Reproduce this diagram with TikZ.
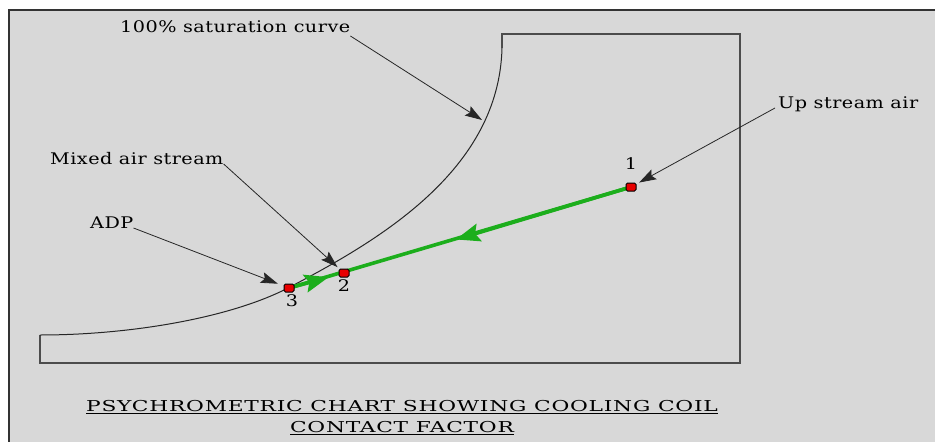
\documentclass[tikz,border=0pt]{standalone}
\usepackage{fontspec}
\setmainfont{DejaVu Serif}[FakeStretch=1.2, LetterSpace=3]
\newfontfamily\titlefont{DejaVu Serif}[FakeStretch=1.45, LetterSpace=5]
\usepackage{tikz}
\usetikzlibrary{arrows.meta, positioning, calc}
\definecolor{chartbg}{HTML}{D8D8D8}
\definecolor{flowgreen}{HTML}{1CAE1C}
\definecolor{ptred}{HTML}{E80000}

\begin{document}
\begin{tikzpicture}[x=1pt, y=-1pt,
  lbl/.style={font=\fontsize{16}{18}\selectfont, text=black, inner sep=0pt, anchor=base west},
  num/.style={font=\fontsize{16}{18}\selectfont, text=black, inner sep=0pt},
  statept/.style={draw=black, fill=ptred, rounded corners=1.5pt, minimum width=10pt,
                  minimum height=8pt, inner sep=0pt, line width=1pt},
  lead/.style={-{Stealth[length=17pt, width=11pt, inset=3pt]}, line width=0.8pt, black!85},
  flow/.style={draw=flowgreen, line width=3.6pt},
  flowtip/.style={flow, -{Stealth[length=24pt, width=18pt, inset=4pt]}},
  chart/.style={draw=black!70, line width=1.6pt}]
\useasboundingbox[fill=white] (0,0) rectangle (935,442);
% outer frame
\fill[chartbg] (9,10) rectangle (935,442);
\draw[black!80, line width=2pt] (9,442) -- (9,10) -- (935,10);
% chart outline and saturation curve
\draw[chart] (40,335) -- (40,363) -- (740,363) -- (740,34) -- (502,34) -- (502,48);
\draw[black!85, line width=1pt] (502,48) .. controls (499,170) and (380,240) .. (288,288)
  .. controls (230,318) and (130,335) .. (40,335);
\coordinate (sc) at (482,120);
% process line 1 -> 2 -> 3
\coordinate (c1) at (631,187);
\coordinate (c2) at (344,273);
\coordinate (c3) at (289,288);
\draw[flow] (c1) -- (c3);
\draw[flowtip] (c1) -- ($(c1)!0.61!(c2)$);
\draw[flowtip] (c3) -- ($(c3)!0.72!(c2)$);
\node[statept] (p1) at (c1) {};
\node[statept] (p2) at (c2) {};
\node[statept] (p3) at (c3) {};
\node[num, above=13pt of p1] (n1) {1};
\node[num, below=2pt of p2] (n2) {2};
\node[num, below=2pt of p3, xshift=3pt] (n3) {3};
% labels
\node[lbl] (sat) at (120,32) {100\% saturation curve};
\node[lbl] (ups) at (778,108) {Up stream air};
\node[lbl] (mix) at (50,164) {Mixed air stream};
\node[lbl] (adp) at (90,228) {ADP};
\draw[lead] ([yshift=-4pt]sat.base east) -- (sc);
\draw[lead, shorten >=3pt] ([xshift=-3pt]ups.base west) -- (p1);
\draw[lead, shorten >=2pt] (mix.base east) -- (p2);
\draw[lead, shorten >=6pt] (adp.base east) -- (p3);
% caption
\node[font=\titlefont\fontsize{15}{21.6}\selectfont, text=black, align=center, inner sep=0pt,
      anchor=north] (title) at (402,400)
  {\underline{PSYCHROMETRIC CHART SHOWING COOLING COIL}\\ \underline{CONTACT FACTOR}};
\end{tikzpicture}
\end{document}
